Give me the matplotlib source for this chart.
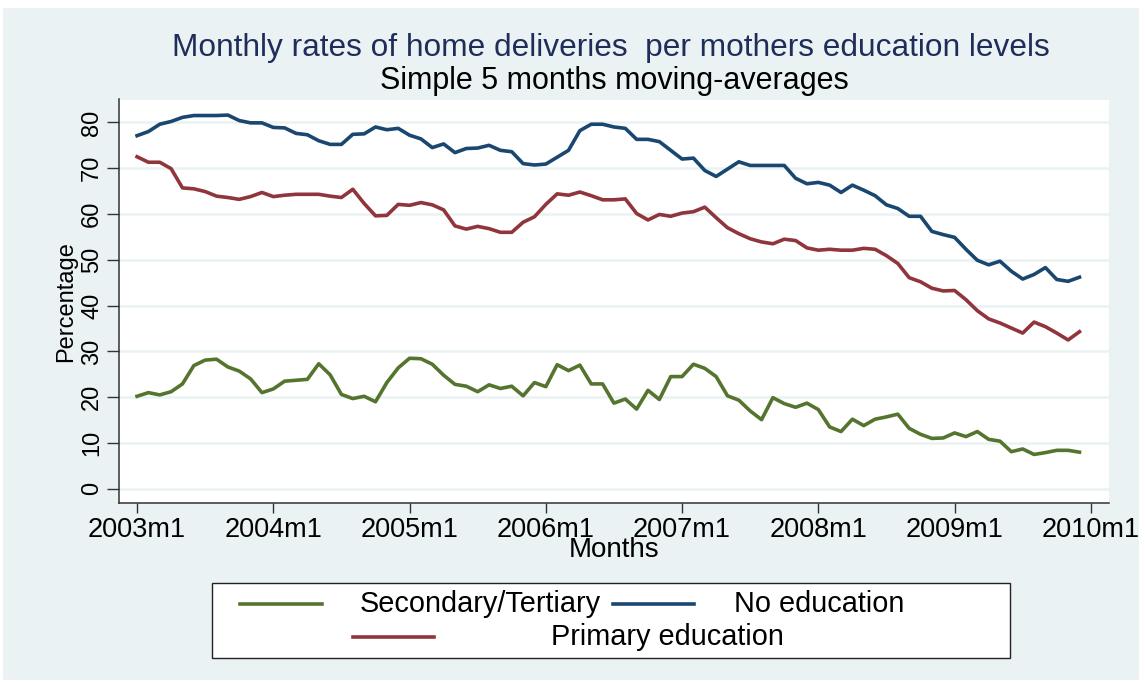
import matplotlib
matplotlib.use("Agg")
from matplotlib import pyplot as plt
from matplotlib.patches import Rectangle
from matplotlib.lines import Line2D
import numpy as np

# monthly series, 2003m1 .. 2009m12 (5-month moving averages, %)
no_educ = [77.1, 78.0, 79.6, 80.2, 81.1, 81.5, 81.5, 81.5, 81.6, 80.4, 79.9, 79.9,
           78.9, 78.8, 77.6, 77.3, 76.0, 75.2, 75.2, 77.4, 77.5, 79.0, 78.4, 78.7,
           77.2, 76.4, 74.5, 75.3, 73.4, 74.3, 74.4, 75.0, 73.9, 73.6, 71.0, 70.7,
           70.9, 72.4, 73.9, 78.2, 79.6, 79.6, 79.0, 78.7, 76.3, 76.3, 75.8, 73.9,
           72.0, 72.2, 69.5, 68.2, 69.8, 71.4, 70.6, 70.6, 70.6, 70.6, 67.8, 66.6,
           66.9, 66.3, 64.7, 66.3, 65.2, 64.0, 62.0, 61.2, 59.5, 59.5, 56.2, 55.5,
           54.9, 52.3, 49.9, 48.9, 49.7, 47.5, 45.8, 46.8, 48.3, 45.7, 45.3, 46.2]
primary = [72.5, 71.3, 71.3, 69.9, 65.7, 65.5, 64.9, 63.9, 63.6, 63.2, 63.8, 64.7,
           63.8, 64.1, 64.3, 64.3, 64.3, 63.9, 63.6, 65.4, 62.3, 59.6, 59.7, 62.1,
           61.9, 62.5, 62.0, 60.9, 57.4, 56.7, 57.3, 56.8, 56.0, 56.0, 58.2, 59.4,
           62.1, 64.4, 64.1, 64.8, 64.0, 63.1, 63.1, 63.3, 60.1, 58.7, 59.9, 59.5,
           60.2, 60.5, 61.5, 59.2, 57.0, 55.7, 54.6, 53.9, 53.5, 54.5, 54.2, 52.6,
           52.1, 52.3, 52.1, 52.1, 52.5, 52.3, 50.9, 49.2, 46.1, 45.2, 43.8, 43.2,
           43.3, 41.3, 38.9, 37.1, 36.2, 35.1, 34.0, 36.4, 35.4, 34.0, 32.5, 34.3]
sec_tert = [20.2, 21.0, 20.5, 21.2, 22.9, 26.9, 28.1, 28.3, 26.6, 25.7, 24.0, 21.0,
            21.8, 23.5, 23.7, 23.9, 27.3, 24.9, 20.6, 19.7, 20.2, 19.0, 23.2, 26.4,
            28.5, 28.4, 27.2, 24.8, 22.8, 22.4, 21.2, 22.7, 21.9, 22.4, 20.3, 23.2,
            22.3, 27.1, 25.8, 27.0, 22.9, 22.9, 18.7, 19.6, 17.4, 21.5, 19.5, 24.5,
            24.5, 27.2, 26.3, 24.5, 20.3, 19.35, 17.0, 15.1, 19.9, 18.6, 17.8, 18.7,
            17.3, 13.5, 12.5, 15.2, 13.8, 15.2, 15.7, 16.3, 13.2, 11.9, 11.0, 11.1,
            12.2, 11.4, 12.5, 10.8, 10.4, 8.1, 8.7, 7.5, 7.9, 8.4, 8.4, 8.0]
tick_years = [2003, 2004, 2005, 2006, 2007, 2008, 2009, 2010]
tick_labels = ["%dm1" % y for y in tick_years]

navy = "#1A476F"
maroon = "#90353B"
green = "#55752F"
bg = "#EAF2F3"

plt.rcParams['font.family'] = ['Liberation Sans', 'DejaVu Sans']

W, H = 1145, 686
fig = plt.figure(figsize=(W / 100, H / 100), dpi=100)
fig.patch.set_facecolor("white")
fig.add_artist(Rectangle((3 / W, 1 - 680 / H), 1136 / W, 672 / H,
                         transform=fig.transFigure, facecolor=bg,
                         edgecolor="none", zorder=-10))

ax = fig.add_axes([119 / W, 1 - 503 / H, 990 / W, 403.5 / H])
ax.set_facecolor("white")

months = np.arange(len(no_educ))
ax.plot(months, sec_tert, color=green, lw=2.6, zorder=3)
ax.plot(months, no_educ, color=navy, lw=2.6, zorder=3)
ax.plot(months, primary, color=maroon, lw=2.6, zorder=3)

ax.set_xlim(-1.59, 85.6)
ax.set_ylim(-3.1, 85)
ax.set_yticks(np.arange(0, 81, 10))
ax.set_yticklabels([str(v) for v in range(0, 81, 10)], rotation=90,
                   va="center", fontsize=17)
ax.set_xticks([12 * k for k in range(len(tick_years))])
ax.set_xticklabels(tick_labels, fontsize=19.5)
ax.grid(axis="y", color=bg, lw=1.8, zorder=0)
ax.set_axisbelow(True)
for s in ["top", "right"]:
    ax.spines[s].set_visible(False)
for s in ["left", "bottom"]:
    ax.spines[s].set_color("#333333")
    ax.spines[s].set_linewidth(1.1)
ax.tick_params(axis="y", length=8.5, width=1.0, color="#333333", pad=3)
ax.tick_params(axis="x", length=7, width=1.0, color="#333333", pad=3)

ax.set_ylabel("Percentage", fontsize=17, labelpad=3)
ax.set_xlabel("Months", fontsize=20, labelpad=-4)

fig.text(611 / W, 1 - 48 / H, "Monthly rates of home deliveries  per mothers education levels",
         ha="center", va="center", fontsize=22.8, color="#1F2D5A")
fig.text(614 / W, 1 - 81 / H, "Simple 5 months moving-averages",
         ha="center", va="center", fontsize=22, color="black")

# legend box
fig.add_artist(Rectangle((212 / W, 1 - 658 / H), 798 / W, 75 / H,
                         transform=fig.transFigure, facecolor="white",
                         edgecolor="#222222", lw=1.0, zorder=5))
legend_items = [
    (240, 322, 604, green, 360, "Secondary/Tertiary"),
    (613, 694, 604, navy, 734, "No education"),
    (353, 434, 637, maroon, 551, "Primary education"),
]
for x0, x1, yy, col, tx, lab in legend_items:
    fig.add_artist(Line2D([x0 / W, x1 / W], [1 - yy / H, 1 - yy / H],
                          transform=fig.transFigure, color=col, lw=2.6, zorder=6))
    fig.text(tx / W, 1 - yy / H, lab, ha="left", va="center",
             fontsize=20.8, color="black", zorder=6)

fig.savefig("out.png", dpi=100, facecolor=fig.get_facecolor())
